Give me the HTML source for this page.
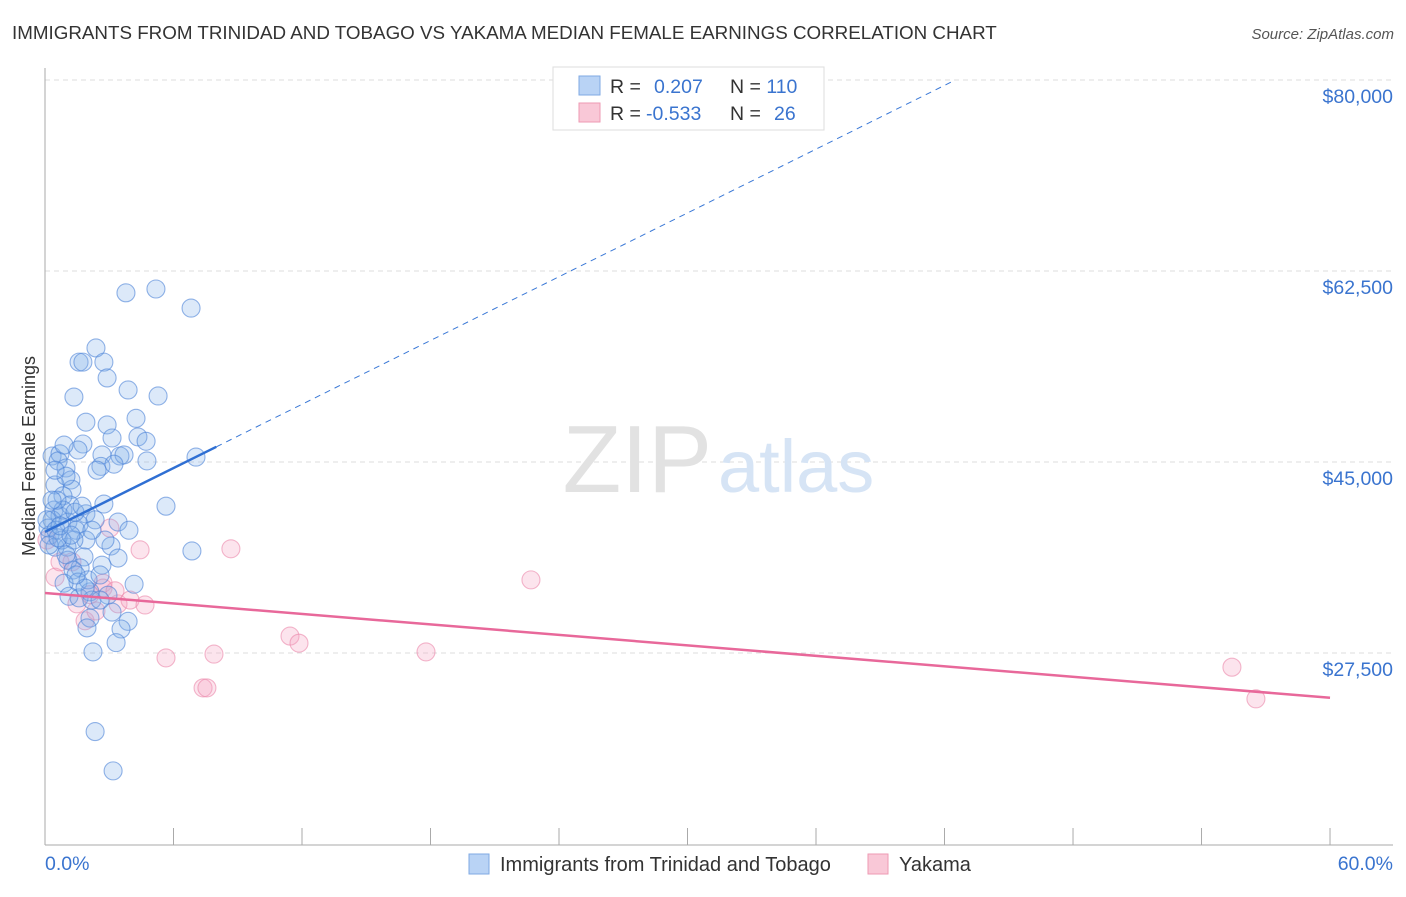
<!DOCTYPE html>
<html><head><meta charset="utf-8"><style>
body{margin:0;background:#fff;font-family:"Liberation Sans",sans-serif;}
svg text{font-family:"Liberation Sans",sans-serif;}
</style></head><body>
<svg id="chart" width="1406" height="892" viewBox="0 0 1406 892">
<text x="12" y="39" font-size="18.8" fill="#333">IMMIGRANTS FROM TRINIDAD AND TOBAGO VS YAKAMA MEDIAN FEMALE EARNINGS CORRELATION CHART</text>
<text x="1394" y="39" font-size="15" fill="#555" text-anchor="end" font-style="italic">Source: ZipAtlas.com</text>
<g id="grid"></g>
<text x="712" y="492" font-size="96" fill="#e2e2e2" text-anchor="end" font-family="Liberation Serif">ZIP</text>
<text x="718" y="492" font-size="74" fill="#d6e4f5">atlas</text>
<g id="axes"></g>
<g id="marks"></g>
<text transform="translate(35,456) rotate(-90)" font-size="18" fill="#333" text-anchor="middle">Median Female Earnings</text>
<g>
<rect x="553" y="67" width="271" height="63" fill="#fff" stroke="#ddd"/>
<rect x="579" y="76" width="21" height="19" fill="#b9d3f5" stroke="#7fa9e3"/>
<rect x="579" y="103" width="21" height="19" fill="#f9c8d7" stroke="#ee9ab3"/>
<text x="610" y="93" font-size="19.5" fill="#333">R = <tspan fill="#3a74cf" x="654">0.207</tspan></text>
<text x="730" y="93" font-size="19.5" fill="#333">N = <tspan fill="#3a74cf">110</tspan></text>
<text x="610" y="120" font-size="19.5" fill="#333">R = <tspan fill="#3a74cf" x="646">-0.533</tspan></text>
<text x="730" y="120" font-size="19.5" fill="#333">N = <tspan fill="#3a74cf" x="774">26</tspan></text>
</g>
<g>
<rect x="469" y="854" width="20" height="20" fill="#b9d3f5" stroke="#7fa9e3"/>
<text x="500" y="871" font-size="20" fill="#333">Immigrants from Trinidad and Tobago</text>
<rect x="868" y="854" width="20" height="20" fill="#f9c8d7" stroke="#ee9ab3"/>
<text x="899" y="871" font-size="20" fill="#333">Yakama</text>
</g>
</svg>
<script>
const blueX=[3.78,5.18,6.82,2.38,1.59,1.77,2.75,2.90,3.88,1.35,5.28,4.25,1.91,2.90,3.13,4.34,4.72,1.77,0.33,0.70,0.61,0.98,1.21,2.66,3.50,3.69,2.61,3.22,4.76,7.05,0.47,1.26,0.84,2.75,5.65,0.42,1.91,0.70,0.33,1.07,1.59,1.45,3.41,3.92,1.91,1.03,0.47,3.08,6.86,1.82,1.07,3.41,2.66,1.64,1.31,1.54,0.89,4.16,2.10,1.12,1.59,3.13,2.10,3.88,1.96,3.55,3.32,2.24,2.34,3.18,0.14,0.23,0.09,0.51,0.79,1.17,2.01,2.57,2.94,0.84,1.40,0.19,0.56,0.98,2.19,1.87,0.61,1.35,2.34,2.80,0.33,0.70,1.21,1.73,2.19,0.98,1.45,2.57,0.47,1.54,0.89,2.43];
const blueY=[60.5,60.85,59.1,55.45,54.15,54.15,54.15,52.7,51.6,50.95,51.05,49.0,48.65,48.4,47.2,47.3,46.9,46.65,45.55,45.75,45.1,44.45,43.35,45.65,45.55,45.65,44.6,44.8,45.1,45.45,42.9,42.5,41.9,41.15,40.95,40.6,40.25,40.05,39.7,39.5,39.3,38.75,39.5,38.75,37.85,37.2,37.2,37.3,36.85,36.3,36.0,36.2,35.55,35.3,35.1,34.0,33.9,33.8,33.1,32.7,32.55,31.25,30.7,30.4,29.8,29.7,28.45,27.6,20.3,16.7,38.95,38.3,39.7,38.75,37.85,41.05,34.2,34.65,32.8,40.6,40.4,37.4,41.5,43.7,32.35,33.45,38.05,37.85,39.7,37.85,41.5,39.15,38.3,40.95,38.75,36.5,34.65,32.35,44.25,46.1,46.55,44.25];
const pinkX=[0.47,0.70,1.26,1.49,1.87,2.38,2.71,3.03,2.71,3.41,3.27,3.97,4.44,4.67,5.65,7.38,7.56,7.89,8.68,11.44,11.86,17.79,22.69,55.42,56.54,0.09,2.10];
const pinkY=[34.45,35.85,35.85,32.0,30.45,31.35,33.9,38.95,33.45,32.0,33.2,32.35,36.95,31.9,27.05,24.3,24.3,27.4,37.05,29.05,28.4,27.6,34.2,26.2,23.3,37.85,32.85];
const yTicks=[80000,62500,45000,27500];
const yTickLabels=["$80,000","$62,500","$45,000","$27,500"];
const xTicks=[0,6,12,18,24,30,36,42,48,54,60];
const blueTrend=[38.6,0.974];
const pinkTrend=[33.0,-0.16];
const NS='http://www.w3.org/2000/svg';
const xs=v=>45+v*21.417;
const ys=k=>80+(80-k)*191/17.5;
function mk(tag,attrs,parent){const e=document.createElementNS(NS,tag);for(const k in attrs)e.setAttribute(k,attrs[k]);document.getElementById(parent).appendChild(e);return e;}
yTicks.forEach((t,i)=>{
  const y=ys(t/1000);
  const g=mk('line',{x1:45,x2:1393,y1:y,y2:y,stroke:'#ddd','stroke-dasharray':'5,4'},'grid');
  
  
  const tx=mk('text',{x:1393,y:y+23,'font-size':19.5,fill:'#3a74cf','text-anchor':'end'},'axes');
  tx.textContent=yTickLabels[i];
  
  
});
let ax=mk('line',{x1:45,x2:45,y1:68,y2:845,stroke:'#aaa'},'axes');


ax=mk('line',{x1:45,x2:1393,y1:845,y2:845,stroke:'#aaa'},'axes');


xTicks.forEach(t=>{
  const tk=mk('line',{x1:xs(t),x2:xs(t),y1:828,y2:845,stroke:'#aaa'},'axes');
  
  
});
let lx=mk('text',{x:45,y:870,'font-size':19.5,fill:'#3a74cf'},'axes');lx.textContent='0.0%';


lx=mk('text',{x:1393,y:870,'font-size':19.5,fill:'#3a74cf','text-anchor':'end'},'axes');lx.textContent='60.0%';


pinkX.forEach((x,i)=>{
  const c=mk('circle',{cx:xs(x),cy:ys(pinkY[i]),r:9,fill:'rgba(245,165,195,0.3)',stroke:'rgba(235,135,170,0.6)','stroke-width':1.1},'marks');
  
  
});
blueX.forEach((x,i)=>{
  const c=mk('circle',{cx:xs(x),cy:ys(blueY[i]),r:9,fill:'rgba(130,175,235,0.28)',stroke:'rgba(75,130,215,0.6)','stroke-width':1.1},'marks');
  
  
});
const bEnd=(80-blueTrend[0])/blueTrend[1];
let l=mk('line',{x1:xs(8),y1:ys(blueTrend[0]+blueTrend[1]*8),x2:xs(bEnd),y2:ys(80),stroke:'#3a78d6','stroke-width':1,'stroke-dasharray':'6,5'},'marks');


l=mk('line',{x1:xs(0),y1:ys(blueTrend[0]),x2:xs(8),y2:ys(blueTrend[0]+blueTrend[1]*8),stroke:'#2f6fd3','stroke-width':2.5},'marks');


l=mk('line',{x1:xs(0),y1:ys(pinkTrend[0]),x2:xs(60),y2:ys(pinkTrend[0]+pinkTrend[1]*60),stroke:'#e8689a','stroke-width':2.5},'marks');


</script>
</body></html>
